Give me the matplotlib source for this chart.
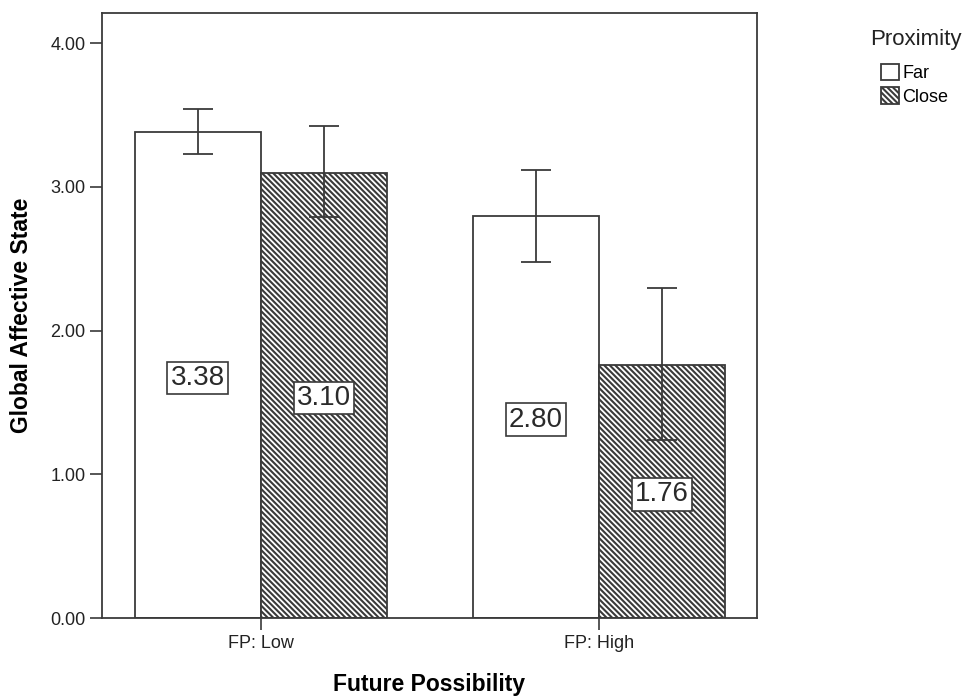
import matplotlib
matplotlib.use('Agg')
from matplotlib import pyplot as plt
import numpy as np

plt.rcParams['font.family'] = ['Liberation Sans', 'DejaVu Sans']
plt.rcParams['hatch.linewidth'] = 1.5
plt.rcParams['hatch.color'] = '#333333'

groups = ['FP: Low', 'FP: High']
series = ['Far', 'Close']
means = {'Far': [3.38, 2.80], 'Close': [3.10, 1.76]}
err_low = {'Far': [3.23, 2.48], 'Close': [2.79, 1.24]}
err_high = {'Far': [3.545, 3.12], 'Close': [3.425, 2.30]}
hatches = {'Far': '', 'Close': '\\\\\\\\\\\\'}

line_col = '#3a3a3a'
fig = plt.figure(figsize=(9.73, 6.97), dpi=100)
ax = fig.add_axes([0.1048, 0.1133, 0.6732, 0.868])

x = np.arange(len(groups))
w = 0.373
offsets = {'Far': -w / 2, 'Close': w / 2}

handles = []
for s in series:
    pos = x + offsets[s]
    vals = np.array(means[s])
    b = ax.bar(pos, vals, w, color='white', edgecolor=line_col, linewidth=1.3,
               hatch=hatches[s], label=s)
    handles.append(b)
    lo = vals - np.array(err_low[s])
    hi = np.array(err_high[s]) - vals
    ax.errorbar(pos, vals, yerr=[lo, hi], fmt='none', ecolor=line_col,
                elinewidth=1.3, capsize=11, capthick=1.3)
    for p, v in zip(pos, vals):
        ax.text(p, v / 2 - 0.02, f'{v:.2f}', ha='center', va='center', fontsize=20,
                color='#2a2a2a',
                bbox=dict(boxstyle='square,pad=0.12', fc='white', ec=line_col, lw=1.2))

ax.set_xlim(-0.47, 1.467)
ax.set_ylim(0, 4.21)
ax.set_xticks(x)
ax.set_xticklabels(groups, fontsize=13)
ax.set_yticks([0, 1, 2, 3, 4])
ax.set_yticklabels([f'{v:.2f}' for v in [0, 1, 2, 3, 4]], fontsize=13)
ax.tick_params(axis='both', length=8.5, width=1.2, color=line_col, labelcolor='#222222')
for sp in ax.spines.values():
    sp.set_color(line_col)
    sp.set_linewidth(1.3)

ax.set_ylabel('Global Affective State', fontsize=16.5, fontweight='bold')
ax.yaxis.set_label_coords(-0.105, 0.5)
ax.set_xlabel('Future Possibility', fontsize=16.5, fontweight='bold')
ax.xaxis.set_label_coords(0.5, -0.091)

# legend title drawn separately so the entries sit indented below it
fig.text(0.941, 0.943, 'Proximity', ha='center', va='center', fontsize=16, color='#222222')
leg = fig.legend(handles=handles, labels=series,
                 loc='upper left', bbox_to_anchor=(0.905, 0.908), frameon=False,
                 fontsize=13, handlelength=1.0, handleheight=1.0, handletextpad=0.2,
                 labelspacing=0.28, borderaxespad=0, borderpad=0)

fig.savefig('out.png', dpi=100)
